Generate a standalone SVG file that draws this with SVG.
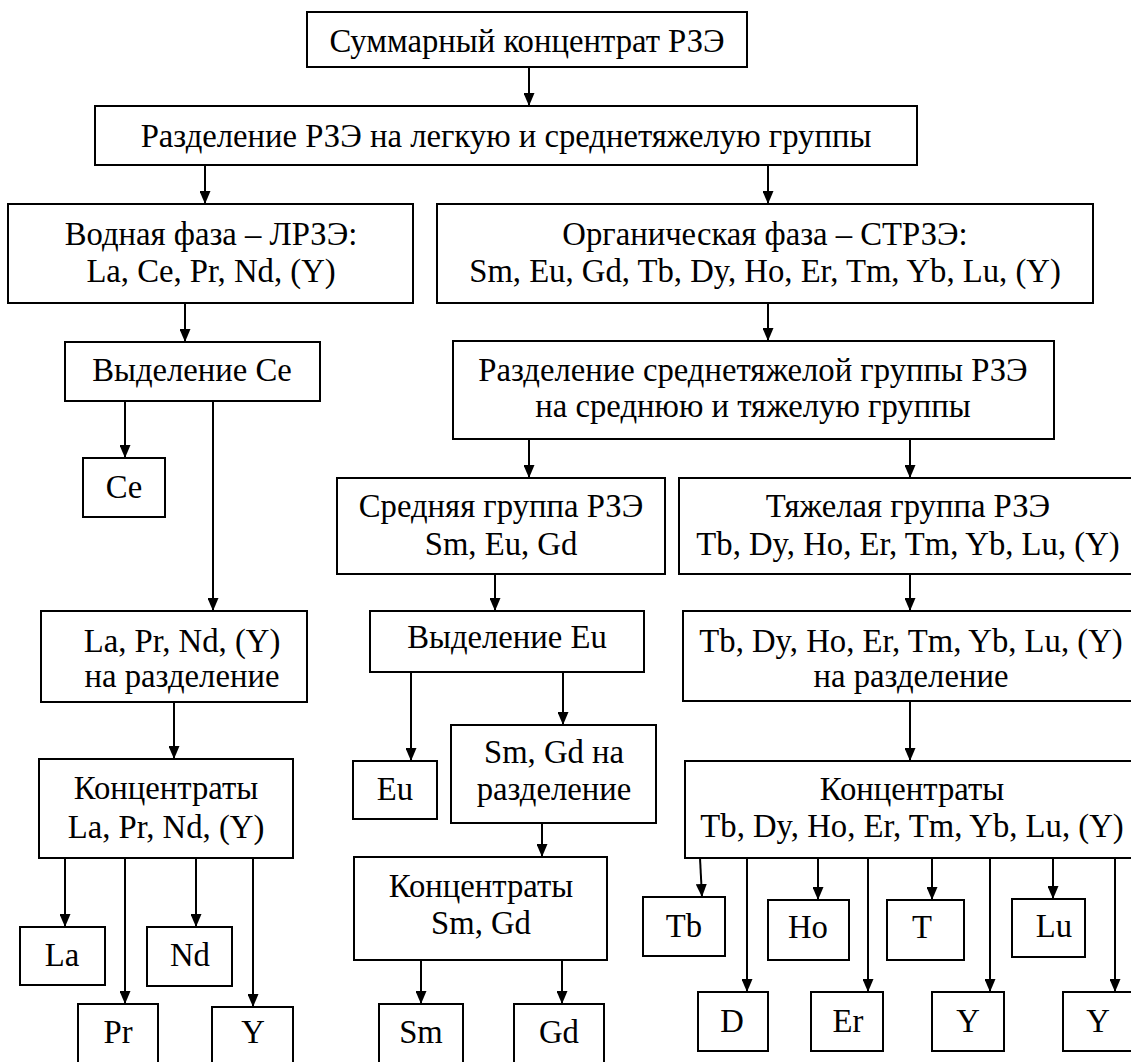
<svg xmlns="http://www.w3.org/2000/svg" width="1131" height="1062" viewBox="0 0 1131 1062">
<style>
rect{fill:#fff;stroke:#000;stroke-width:2}
text{font-size:32.7px;fill:#000;text-anchor:middle}
.c line{stroke:#000;stroke-width:2;marker-end:url(#ah)}
</style>
<defs>
<marker id="ah" viewBox="0 0 13 11" refX="13" refY="5.5" markerWidth="13" markerHeight="11" markerUnits="userSpaceOnUse" orient="auto">
<path d="M0,0 L13,5.5 L0,11 z" fill="#000"/>
</marker>
</defs>
<rect width="1131" height="1062" style="fill:#fff;stroke:none"/>
<g class="c">
<line x1="529" y1="67" x2="529" y2="106"/>
<line x1="205" y1="165" x2="205" y2="204"/>
<line x1="768" y1="165" x2="768" y2="204"/>
<line x1="185" y1="303" x2="185" y2="342"/>
<line x1="768" y1="303" x2="768" y2="341"/>
<line x1="125" y1="401" x2="125" y2="458"/>
<line x1="213" y1="401" x2="213" y2="611"/>
<line x1="529" y1="439" x2="529" y2="478"/>
<line x1="910" y1="439" x2="910" y2="478"/>
<line x1="495" y1="574" x2="495" y2="611"/>
<line x1="910" y1="574" x2="910" y2="611"/>
<line x1="174" y1="702" x2="174" y2="759"/>
<line x1="411" y1="672" x2="411" y2="761"/>
<line x1="563" y1="672" x2="563" y2="725"/>
<line x1="910" y1="701" x2="910" y2="761"/>
<line x1="65" y1="858" x2="65" y2="927"/>
<line x1="125" y1="858" x2="125" y2="1004"/>
<line x1="196" y1="858" x2="196" y2="927"/>
<line x1="253" y1="858" x2="253" y2="1007"/>
<line x1="542" y1="823" x2="542" y2="857"/>
<line x1="421" y1="960" x2="421" y2="1004"/>
<line x1="562" y1="960" x2="562" y2="1004"/>
<line x1="700" y1="858" x2="702" y2="897"/>
<line x1="747" y1="858" x2="747" y2="992"/>
<line x1="818" y1="858" x2="818" y2="900"/>
<line x1="868" y1="858" x2="868" y2="992"/>
<line x1="932" y1="858" x2="932" y2="900"/>
<line x1="990" y1="858" x2="990" y2="992"/>
<line x1="1053" y1="858" x2="1053" y2="899"/>
<line x1="1115" y1="858" x2="1115" y2="992"/>
</g>
<g id="n1"><rect x="307" y="12" width="440" height="55"/><text font-family="Liberation Serif" x="527" y="52">Суммарный концентрат РЗЭ</text></g>
<g id="n2"><rect x="95" y="106" width="822" height="59"/><text font-family="Liberation Serif" x="506" y="147">Разделение РЗЭ на легкую и среднетяжелую группы</text></g>
<g id="n3"><rect x="8" y="204" width="405" height="99"/><text font-family="Liberation Serif" x="211" y="245">Водная фаза – ЛРЗЭ:</text><text font-family="Liberation Serif" x="211" y="282">La, Ce, Pr, Nd, (Y)</text></g>
<g id="n4"><rect x="437" y="204" width="656" height="99"/><text font-family="Liberation Serif" x="765" y="245">Органическая фаза – СТРЗЭ:</text><text font-family="Liberation Serif" x="765" y="282">Sm, Eu, Gd, Tb, Dy, Ho, Er, Tm, Yb, Lu, (Y)</text></g>
<g id="n5"><rect x="65" y="342" width="255" height="59"/><text font-family="Liberation Serif" x="192" y="381">Выделение Ce</text></g>
<g id="n6"><rect x="83" y="458" width="82" height="59"/><text font-family="Liberation Serif" x="124" y="498">Ce</text></g>
<g id="n7"><rect x="41" y="611" width="266" height="91"/><text font-family="Liberation Serif" x="182" y="652">La, Pr, Nd, (Y)</text><text font-family="Liberation Serif" x="182" y="687">на разделение</text></g>
<g id="n8"><rect x="453" y="341" width="601" height="98"/><text font-family="Liberation Serif" x="753" y="381">Разделение среднетяжелой группы РЗЭ</text><text font-family="Liberation Serif" x="753" y="417">на среднюю и тяжелую группы</text></g>
<g id="n9"><rect x="337" y="478" width="328" height="96"/><text font-family="Liberation Serif" x="501" y="517">Средняя группа РЗЭ</text><text font-family="Liberation Serif" x="501" y="555">Sm, Eu, Gd</text></g>
<g id="n10"><rect x="679" y="478" width="460" height="96"/><text font-family="Liberation Serif" x="908" y="517">Тяжелая группа РЗЭ</text><text font-family="Liberation Serif" x="908" y="555">Tb, Dy, Ho, Er, Tm, Yb, Lu, (Y)</text></g>
<g id="n11"><rect x="370" y="611" width="274" height="61"/><text font-family="Liberation Serif" x="507" y="648">Выделение Eu</text></g>
<g id="n12"><rect x="683" y="611" width="460" height="90"/><text font-family="Liberation Serif" x="911" y="652">Tb, Dy, Ho, Er, Tm, Yb, Lu, (Y)</text><text font-family="Liberation Serif" x="911" y="687">на разделение</text></g>
<g id="n13"><rect x="39" y="759" width="254" height="99"/><text font-family="Liberation Serif" x="166" y="799">Концентраты</text><text font-family="Liberation Serif" x="166" y="838">La, Pr, Nd, (Y)</text></g>
<g id="n14"><rect x="20" y="927" width="85" height="58"/><text font-family="Liberation Serif" x="62" y="966">La</text></g>
<g id="n15"><rect x="147" y="927" width="85" height="59"/><text font-family="Liberation Serif" x="190" y="966">Nd</text></g>
<g id="n16"><rect x="78" y="1004" width="80" height="62"/><text font-family="Liberation Serif" x="118" y="1043">Pr</text></g>
<g id="n17"><rect x="212" y="1007" width="81" height="60"/><text font-family="Liberation Serif" x="253" y="1043">Y</text></g>
<g id="n18"><rect x="353" y="761" width="84" height="58"/><text font-family="Liberation Serif" x="395" y="800">Eu</text></g>
<g id="n19"><rect x="451" y="725" width="205" height="98"/><text font-family="Liberation Serif" x="554" y="763">Sm, Gd на</text><text font-family="Liberation Serif" x="554" y="800">разделение</text></g>
<g id="n20"><rect x="354" y="857" width="253" height="103"/><text font-family="Liberation Serif" x="481" y="897">Концентраты</text><text font-family="Liberation Serif" x="481" y="934">Sm, Gd</text></g>
<g id="n21"><rect x="379" y="1004" width="84" height="62"/><text font-family="Liberation Serif" x="421" y="1043">Sm</text></g>
<g id="n22"><rect x="514" y="1004" width="90" height="62"/><text font-family="Liberation Serif" x="559" y="1043">Gd</text></g>
<g id="n23"><rect x="685" y="761" width="460" height="97"/><text font-family="Liberation Serif" x="912" y="800">Концентраты</text><text font-family="Liberation Serif" x="912" y="837">Tb, Dy, Ho, Er, Tm, Yb, Lu, (Y)</text></g>
<g id="n24"><rect x="643" y="897" width="82" height="59"/><text font-family="Liberation Serif" x="684" y="937">Tb</text></g>
<g id="n25"><rect x="768" y="900" width="81" height="60"/><text font-family="Liberation Serif" x="808" y="938">Ho</text></g>
<g id="n26"><rect x="887" y="900" width="77" height="60"/><text font-family="Liberation Serif" x="922" y="938">T</text></g>
<g id="n27"><rect x="1012" y="899" width="73" height="58"/><text font-family="Liberation Serif" x="1054" y="937">Lu</text></g>
<g id="n28"><rect x="698" y="992" width="70" height="59"/><text font-family="Liberation Serif" x="732" y="1032">D</text></g>
<g id="n29"><rect x="811" y="992" width="72" height="59"/><text font-family="Liberation Serif" x="848" y="1032">Er</text></g>
<g id="n30"><rect x="932" y="992" width="72" height="59"/><text font-family="Liberation Serif" x="968" y="1032">Y</text></g>
<g id="n31"><rect x="1063" y="992" width="75" height="59"/><text font-family="Liberation Serif" x="1098" y="1032">Y</text></g>
</svg>
